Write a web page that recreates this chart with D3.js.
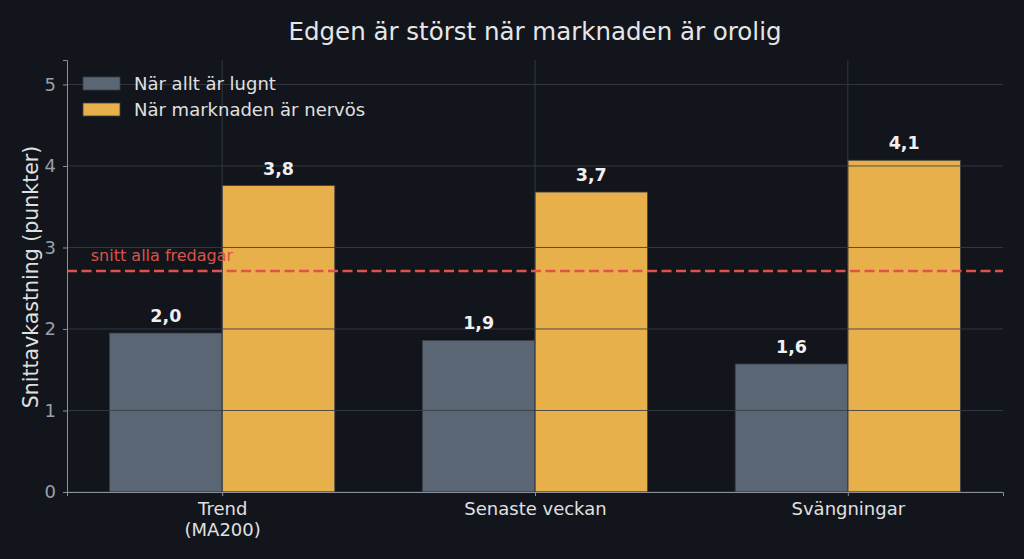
<!DOCTYPE html>
<html><head><meta charset="utf-8">
<script src="https://cdn.jsdelivr.net/npm/d3@7"></script>
<style>
html,body{margin:0;padding:0;background:#12151c;}
svg{display:block;}
text{font-family:"DejaVu Sans",sans-serif;}
</style></head>
<body>
<svg id="c" width="1024" height="559"></svg>
<script>
const categories = ["Trend\n(MA200)", "Senaste veckan", "Svängningar"];
const seriesNames = ["När allt är lugnt", "När marknaden är nervös"];
const calmValues = [1.95, 1.86, 1.57];
const nervousValues = [3.76, 3.68, 4.07];
const calmLabels = ["2,0", "1,9", "1,6"];
const nervousLabels = ["3,8", "3,7", "4,1"];
const avgValue = 2.71;
const avgLabel = "snitt alla fredagar";
const yTicks = [0, 1, 2, 3, 4, 5];
const title = "Edgen är störst när marknaden är orolig";
const yTitle = "Snittavkastning (punkter)";

const colors = ["#5b6674", "#e8b04b"];
const W = 1024, H = 559;
const m = {l: 67, r: 1003, t: 60, b: 492};
const svg = d3.select("#c");

const x = d3.scaleLinear().domain([-0.496, 2.496]).range([m.l, m.r]);
const y = d3.scaleLinear().domain([0, 5.3]).range([m.b, m.t]);
const bw = 0.36;

const series = [calmValues, nervousValues];
const labels = [calmLabels, nervousLabels];

// bars
series.forEach((vals, s) => {
  const off = s === 0 ? -bw / 2 : bw / 2;
  svg.append("g").selectAll("rect").data(vals).join("rect")
    .attr("x", (d, i) => x(i + off - bw / 2))
    .attr("width", x(bw) - x(0))
    .attr("y", d => y(d))
    .attr("height", d => y(0) - y(d))
    .attr("fill", colors[s])
    .attr("stroke", "#3a3f48").attr("stroke-width", 0.8);
});

// grid (drawn above bars)
const grid = svg.append("g");
grid.selectAll("line.h").data(yTicks).join("line")
  .attr("x1", m.l).attr("x2", m.r)
  .attr("y1", d => y(d)).attr("y2", d => y(d))
  .attr("stroke", "#3a3d44").attr("stroke-opacity", 0.85).attr("stroke-width", 1);
grid.selectAll("line.v").data(categories).join("line")
  .attr("x1", (d, i) => x(i)).attr("x2", (d, i) => x(i))
  .attr("y1", m.t).attr("y2", m.b)
  .attr("stroke", "#3a3d44").attr("stroke-opacity", 0.85).attr("stroke-width", 1);

// value labels
series.forEach((vals, s) => {
  const off = s === 0 ? -bw / 2 : bw / 2;
  svg.append("g").selectAll("text").data(vals).join("text")
    .attr("x", (d, i) => x(i + off))
    .attr("y", d => y(d) - 11)
    .attr("text-anchor", "middle")
    .attr("fill", "#f0f0f0").attr("font-weight", "bold").attr("font-size", 17.5)
    .text((d, i) => labels[s][i]);
});

// average line
svg.append("line")
  .attr("x1", m.l).attr("x2", m.r)
  .attr("y1", y(avgValue)).attr("y2", y(avgValue))
  .attr("stroke", "#e0524a").attr("stroke-width", 2.5)
  .attr("stroke-dasharray", "10,4.5");
svg.append("text")
  .attr("x", x(-0.42)).attr("y", y(avgValue) - 10)
  .attr("fill", "#d9534a").attr("font-size", 16)
  .text(avgLabel);

// axes
const yAxis = svg.append("g").attr("transform", `translate(${m.l},0)`)
  .call(d3.axisLeft(y).tickValues(yTicks).tickSize(4).tickPadding(7).tickFormat(d3.format("d")));
yAxis.select(".domain").attr("stroke", "#8a8f98");
yAxis.selectAll(".tick line").attr("stroke", "#8a8f98");
yAxis.selectAll(".tick text").attr("fill", "#9aa0a8").attr("font-size", 18)
  .attr("font-family", "DejaVu Sans");

const xAxis = svg.append("g").attr("transform", `translate(0,${m.b})`)
  .call(d3.axisBottom(x).tickValues(d3.range(categories.length)).tickSize(4).tickFormat(() => ""));
xAxis.select(".domain").attr("stroke", "#8a8f98");
xAxis.selectAll(".tick line").attr("stroke", "#8a8f98");
xAxis.selectAll(".tick").each(function(d) {
  const lines = categories[d].split("\n");
  const t = d3.select(this).append("text")
    .attr("fill", "#e0e0e0").attr("font-size", 18).attr("text-anchor", "middle")
    .attr("font-family", "DejaVu Sans");
  lines.forEach((ln, k) => t.append("tspan").attr("x", 0).attr("y", 23 + k * 21).text(ln));
});

// title
svg.append("text").attr("x", (m.l + m.r) / 2).attr("y", 40)
  .attr("text-anchor", "middle").attr("fill", "#e6e6e6").attr("font-size", 24.5)
  .text(title);

// y title
svg.append("text")
  .attr("transform", `translate(38,${(m.t + m.b) / 2 + 1}) rotate(-90)`)
  .attr("text-anchor", "middle").attr("fill", "#e0e0e0").attr("font-size", 20.5)
  .text(yTitle);

// legend
const lg = svg.append("g").attr("transform", "translate(83,77)");
seriesNames.forEach((n, i) => {
  const g = lg.append("g").attr("transform", `translate(0,${i * 26})`);
  g.append("rect").attr("width", 37).attr("height", 13).attr("fill", colors[i])
    .attr("stroke", "#3a3f48").attr("stroke-width", 0.8);
  g.append("text").attr("x", 51).attr("y", 13).attr("fill", "#e0e0e0")
    .attr("font-size", 18).text(n);
});
</script>
</body></html>
